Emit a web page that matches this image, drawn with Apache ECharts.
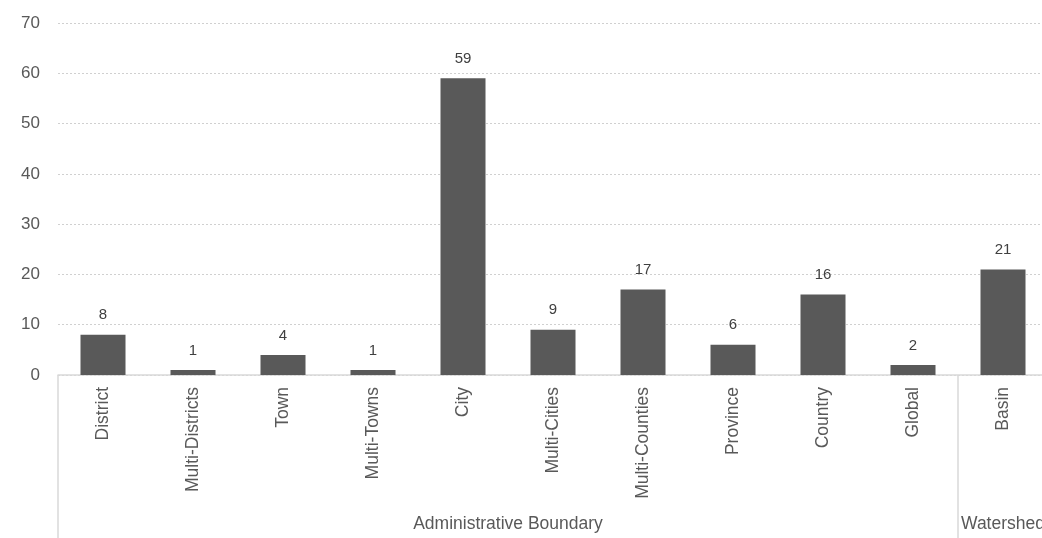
<!DOCTYPE html>
<html>
<head>
<meta charset="utf-8">
<script src="https://cdn.jsdelivr.net/npm/echarts@6/dist/echarts.min.js"></script>
<style>
  html, body { margin: 0; padding: 0; background: #fff; }
  #chart { width: 1042px; height: 538px; }
</style>
</head>
<body>
<div id="chart"></div>
<script>
const categories = ['District', 'Multi-Districts', 'Town', 'Multi-Towns', 'City', 'Multi-Cities',
  'Multi-Counties', 'Province', 'Country', 'Global', 'Basin'];
const counts = [8, 1, 4, 1, 59, 9, 17, 6, 16, 2, 21];
// group name, first category index, last category index
const groups = [
  ['Administrative Boundary', 0, 9],
  ['Watershed', 10, 10]
];
const groupStarts = [0, 10];

const font = '"Liberation Sans", Arial, sans-serif';
const chart = echarts.init(document.getElementById('chart'));

chart.setOption({
  animation: false,
  // plot runs past the right edge, as in the cropped original
  grid: { left: 58, width: 990, top: 23, bottom: 163, outerBoundsMode: 'none' },
  xAxis: {
    type: 'category',
    data: categories,
    axisLine: { lineStyle: { color: '#d9d9d9', width: 1.5 } },
    axisTick: {
      show: true,
      length: 163,
      interval: (i) => groupStarts.includes(i),
      lineStyle: { color: '#d9d9d9', width: 1.5 }
    },
    axisLabel: {
      rotate: 90, interval: 0, margin: 12,
      color: '#595959', fontSize: 17.5, fontFamily: font
    }
  },
  yAxis: {
    type: 'value',
    min: 0, max: 70, interval: 10,
    axisLine: { show: false },
    axisTick: { show: false },
    axisLabel: { color: '#595959', fontSize: 17, fontFamily: font, margin: 18 },
    splitLine: { lineStyle: { color: '#d0d0d0', type: [2, 2] } }
  },
  series: [{
    type: 'bar',
    data: counts,
    barWidth: '50%',
    itemStyle: { color: '#595959' },
    label: {
      show: true, position: 'top', distance: 12,
      color: '#404040', fontSize: 15, fontFamily: font
    }
  }]
});

// group labels under the rotated category labels
const graphics = groups.map(([name, a, b]) => {
  const x1 = chart.convertToPixel({ xAxisIndex: 0 }, categories[a]);
  const x2 = chart.convertToPixel({ xAxisIndex: 0 }, categories[b]);
  return {
    type: 'text',
    x: (x1 + x2) / 2, y: 524,
    style: {
      text: name, fill: '#595959', fontSize: 17.5, fontFamily: font,
      align: 'center', verticalAlign: 'middle'
    }
  };
});
chart.setOption({ graphic: graphics });
</script>
</body>
</html>
